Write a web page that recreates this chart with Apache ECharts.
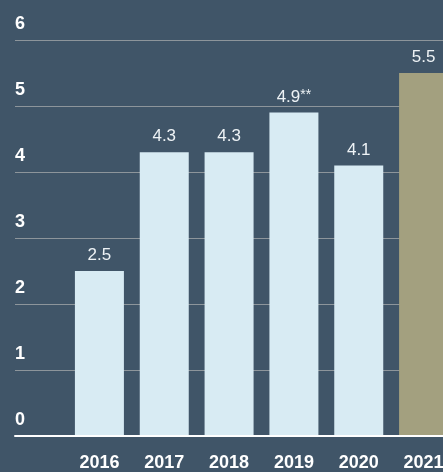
<!DOCTYPE html>
<html>
<head>
<meta charset="utf-8">
<style>
  html, body { margin: 0; padding: 0; background: #405568; }
  #chart { width: 443px; height: 472px; }
</style>
<script src="https://cdn.jsdelivr.net/npm/echarts@6/dist/echarts.min.js"></script>
</head>
<body>
<div id="chart"></div>
<script>
// Yearly values, with footnote markers shown after some labels
const years = ['2016', '2017', '2018', '2019', '2020', '2021'];
const values = [2.5, 4.3, 4.3, 4.9, 4.1, 5.5];
const notes = ['', '', '', '**', '', ''];
const yTicks = { min: 0, max: 6, interval: 1 };

const FONT = '"Liberation Sans", Arial, Helvetica, sans-serif';
const BAR = '#d8ebf3';
const HIGHLIGHT = '#a3a07f';

const chart = echarts.init(document.getElementById('chart'), null, { renderer: 'canvas' });

chart.setOption({
  backgroundColor: '#405568',
  animation: false,
  grid: [
    // full-width grid carrying the horizontal rules and the baseline
    { left: 15, right: 0, top: 40, bottom: 36, outerBoundsMode: 'none' },
    // grid holding the bars; the last band runs past the right edge
    { left: 67, width: 389, top: 40, bottom: 36, outerBoundsMode: 'none' }
  ],
  xAxis: [
    {
      gridIndex: 0, type: 'value', min: 0, max: 1, z: 5,
      axisLine: { show: true, lineStyle: { color: '#ffffff', width: 2 } },
      axisTick: { show: false }, axisLabel: { show: false }, splitLine: { show: false }
    },
    {
      gridIndex: 1, type: 'category', data: years,
      axisLine: { show: false }, axisTick: { show: false }, splitLine: { show: false },
      axisLabel: {
        color: '#ffffff', fontFamily: FONT, fontWeight: 'bold', fontSize: 18, margin: 18
      }
    }
  ],
  yAxis: [
    {
      gridIndex: 0, type: 'value', min: yTicks.min, max: yTicks.max, interval: yTicks.interval,
      axisLine: { show: false }, axisTick: { show: false },
      splitLine: { show: true, lineStyle: { color: '#8d959b', width: 1 } },
      axisLabel: {
        inside: true, margin: 0, align: 'left', verticalAlign: 'bottom',
        padding: [0, 0, 7, 0],
        color: '#ffffff', fontFamily: FONT, fontWeight: 'bold', fontSize: 18
      }
    },
    {
      gridIndex: 1, type: 'value', min: yTicks.min, max: yTicks.max, interval: yTicks.interval,
      show: false
    }
  ],
  series: [{
    type: 'bar',
    xAxisIndex: 1, yAxisIndex: 1,
    barWidth: 49,
    data: values.map((v, i) => ({
      value: v,
      itemStyle: { color: i === values.length - 1 ? HIGHLIGHT : BAR }
    })),
    label: {
      show: true, position: 'top', distance: 7,
      formatter: p => '{v|' + p.value + '}' + (notes[p.dataIndex] ? '{s|' + notes[p.dataIndex] + '}' : ''),
      rich: {
        v: { color: '#eef3f6', fontFamily: FONT, fontSize: 17 },
        s: { color: '#eef3f6', fontFamily: FONT, fontSize: 14, verticalAlign: 'top', lineHeight: 17 }
      }
    }
  }]
});
</script>
</body>
</html>
